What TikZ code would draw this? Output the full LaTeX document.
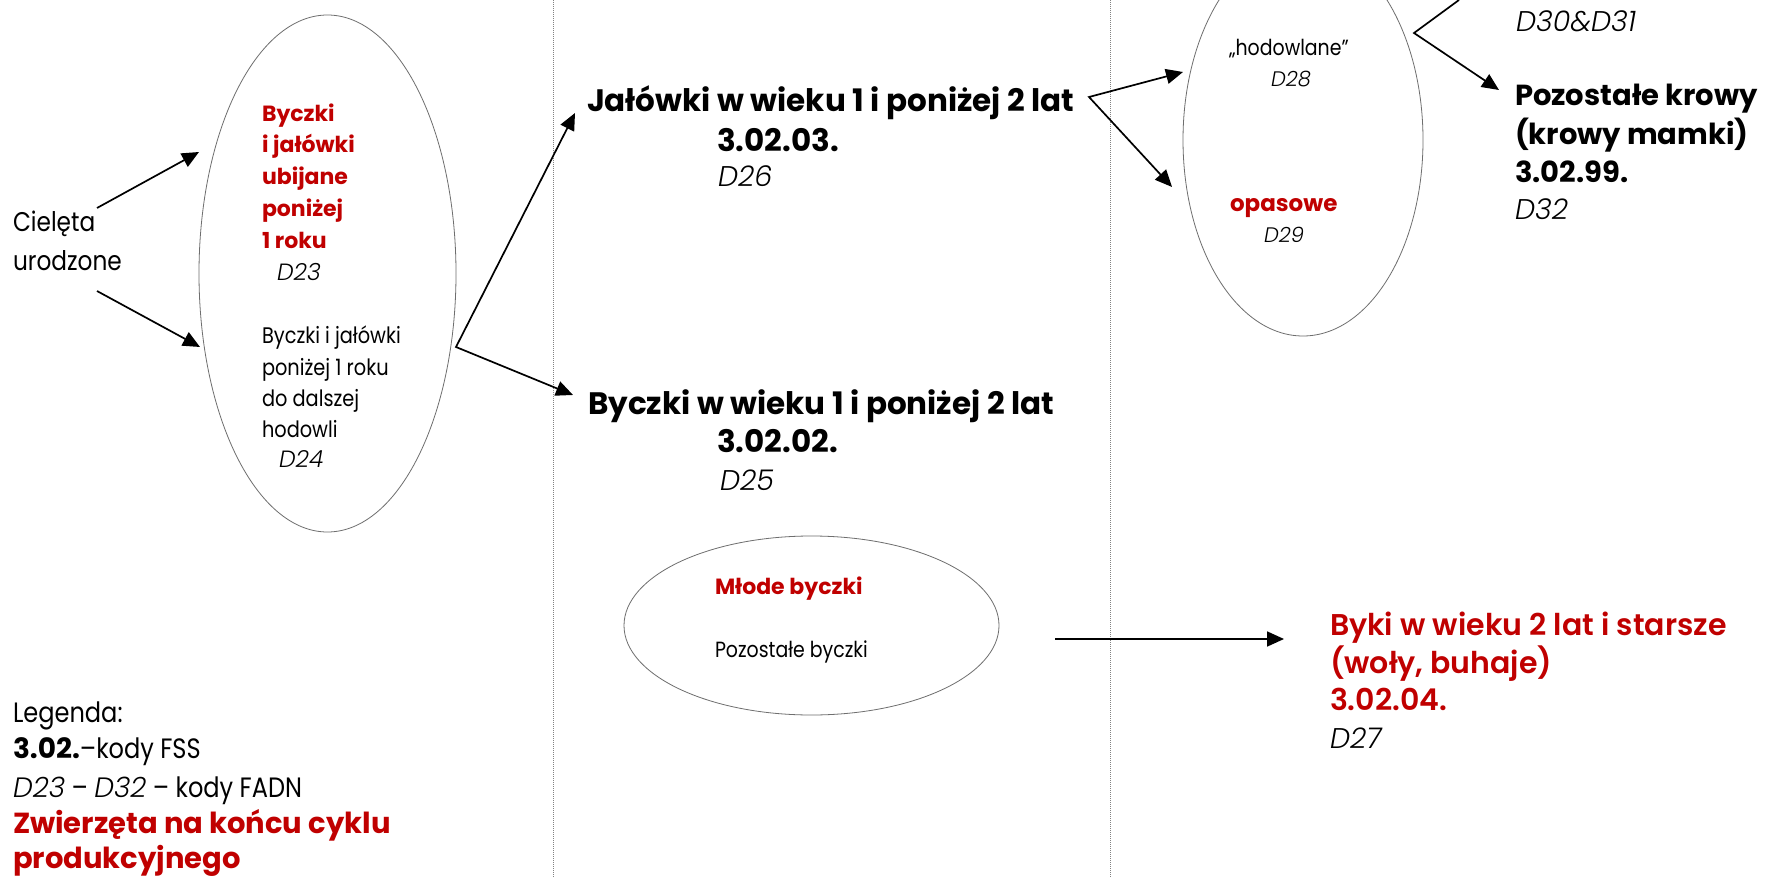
\documentclass[tikz,border=0pt]{standalone}
\usepackage{fontspec}
\usetikzlibrary{arrows.meta,shapes.geometric}
\setmainfont{Poppins}
\newfontfamily\fLight{Poppins}[FakeStretch=0.86]
\IfFontExistsTF{Poppins Light Italic}{\newfontfamily\fLightIt{Poppins Light Italic}}{\newcommand\fLightIt{\normalfont\itshape}}
\IfFontExistsTF{Poppins SemiBold}{\newfontfamily\fSemi{Poppins SemiBold}}{\newcommand\fSemi{\normalfont\bfseries}}
\newcommand\fBold{\normalfont\bfseries}
\definecolor{myred}{RGB}{192,0,0}
\definecolor{ellgray}{RGB}{110,110,110}
\definecolor{dotgray}{RGB}{130,130,130}
\begin{document}
\begin{tikzpicture}[x=1pt,y=-1pt,
  t/.style={inner sep=0pt, outer sep=0pt, anchor=base west},
  ell/.style={draw=ellgray, line width=0.8pt, shape=ellipse, inner sep=0pt},
  sep/.style={draw=dotgray, line width=0.8pt, dash pattern=on 1pt off 1pt},
  arr/.style={line width=1.7pt, -{Triangle[length=17pt,width=15pt]}},
  arrtwo/.style={line width=1.7pt, line join=miter, {Triangle[length=17pt,width=15pt]}-{Triangle[length=17pt,width=15pt]}},
  big/.style={font=\fBold\fontsize{31}{40}\selectfont},
  bigr/.style={font=\fBold\fontsize{29}{40}\selectfont},
  bigit/.style={font=\fLightIt\fontsize{28.5}{40}\selectfont},
  mid/.style={font=\fLight\fontsize{22.5}{32}\selectfont},
  midb/.style={font=\fBold\fontsize{22}{32}\selectfont, text=myred},
  midit/.style={font=\fLightIt\fontsize{23.5}{32}\selectfont},
  leg/.style={font=\fLight\fontsize{28}{37}\selectfont},
  legb/.style={font=\fBold\fontsize{29}{37}\selectfont, text=myred},
  red/.style={font=\fSemi\fontsize{30}{38}\selectfont, text=myred},
  small/.style={font=\fLight\fontsize{22}{28}\selectfont},
  smallit/.style={font=\fLightIt\fontsize{21}{28}\selectfont},
  smallb/.style={font=\fBold\fontsize{23}{28}\selectfont, text=myred}
]
\useasboundingbox (0,0) rectangle (1771,877);
\fill[white] (0,0) rectangle (1771,877);

% separators
\coordinate (s1t) at (553,0);
\coordinate (s1b) at (553,877);
\coordinate (s2t) at (1110,0);
\coordinate (s2b) at (1110,877);
\draw[sep] (s1t) -- (s1b);
\draw[sep] (s2t) -- (s2b);

% ellipses
\node[ell, minimum width=257pt, minimum height=517pt] (e1) at (327.5,273.5) {};
\node[ell, minimum width=375pt, minimum height=179pt] (e2) at (811.5,625.5) {};
\node[ell, minimum width=240pt, minimum height=392pt] (e3) at (1303,140) {};

% Cieleta
\node[t, font=\fLight\fontsize{27}{38}\selectfont] (cie1) at (13,232) {Cielęta};
\node[t, font=\fLight\fontsize{27}{38}\selectfont] (cie2) at (13,270) {urodzone};
\coordinate (a1s) at (97,208);
\coordinate (a1e) at (199,152);
\coordinate (a2s) at (97,291);
\coordinate (a2e) at (200,347);
\draw[arr] (a1s) -- (a1e);
\draw[arr] (a2s) -- (a2e);

% ellipse 1 texts
\node[t, midb] (r1) at (262,122) {Byczki};
\node[t, midb] (r2) at (262,153) {i jałówki};
\node[t, midb] (r3) at (262,185) {ubijane};
\node[t, midb] (r4) at (262,217) {poniżej};
\node[t, midb] (r5) at (262,248) {1 roku};
\node[t, midit] (d23) at (277,280) {D23};
\node[t, mid] (b1) at (262,343) {Byczki i jałówki};
\node[t, mid] (b2) at (262,375) {poniżej 1 roku};
\node[t, mid] (b3) at (262,406) {do dalszej};
\node[t, mid] (b4) at (262,437) {hodowli};
\node[t, midit] (d24) at (279,467) {D24};

% fork 1
\coordinate (f1) at (456,347);
\coordinate (f1a) at (575,113);
\coordinate (f1b) at (573,395);
\draw[arrtwo] (f1a) -- (f1) -- (f1b);

% middle column
\node[t, big] (j1) at (587,112) {Jałówki w wieku 1 i poniżej 2 lat};
\node[t, big] (j2) at (717,152) {3.02.03.};
\node[t, bigit] (d26) at (718,187) {D26};
\node[t, big] (y1) at (588,414) {Byczki w wieku 1 i poniżej 2 lat};
\node[t, big] (y2) at (717,452) {3.02.02.};
\node[t, bigit] (d25) at (720,490) {D25};

% fork 2
\coordinate (f2) at (1089,97);
\coordinate (f2a) at (1183,72);
\coordinate (f2b) at (1172,187);
\draw[arrtwo] (f2a) -- (f2) -- (f2b);

% ellipse 3 texts
\node[t, small] (h1) at (1229,56) {„hodowlane”};
\node[t, smallit] (d28) at (1271,87) {D28};
\node[t, smallb] (op) at (1230,212) {opasowe};
\node[t, smallit] (d29) at (1264,243) {D29};

% fork 3
\coordinate (f3) at (1414,33);
\coordinate (f3a) at (1459,0);
\coordinate (f3b) at (1499,90);
\draw[arr, line join=miter] (f3a) -- (f3) -- (f3b);

% right column
\node[t, bigit] (d30) at (1516,32) {D30\&D31};
\node[t, bigr] (p1) at (1515,106) {Pozostałe krowy};
\node[t, bigr] (p2) at (1515,145) {(krowy mamki)};
\node[t, bigr] (p3) at (1515,183) {3.02.99.};
\node[t, bigit] (d32) at (1515,220) {D32};

% ellipse 2 texts
\node[t, midb] (m1) at (715,594) {Młode byczki};
\node[t, font=\fLight\fontsize{22}{32}\selectfont] (m2) at (715,657) {Pozostałe byczki};

% arrow to bulls
\coordinate (a3s) at (1055,639);
\coordinate (a3e) at (1284,639);
\draw[arr] (a3s) -- (a3e);

\node[t, red] (k1) at (1330,635) {Byki w wieku 2 lat i starsze};
\node[t, red] (k2) at (1330,673) {(woły, buhaje)};
\node[t, red] (k3) at (1330,710) {3.02.04.};
\node[t, bigit] (d27) at (1330,748) {D27};

% legend
\node[t, leg] (l1) at (13,722) {Legenda:};
\node[t, leg] (l2) at (13,758) {{\fBold 3.02.}–kody FSS};
\node[t, leg] (l3) at (13,797) {{\fLightIt D23} – {\fLightIt D32} – kody FADN};
\node[t, legb] (l4) at (13,833) {Zwierzęta na końcu cyklu};
\node[t, legb] (l5) at (13,868) {produkcyjnego};
\end{tikzpicture}
\end{document}
